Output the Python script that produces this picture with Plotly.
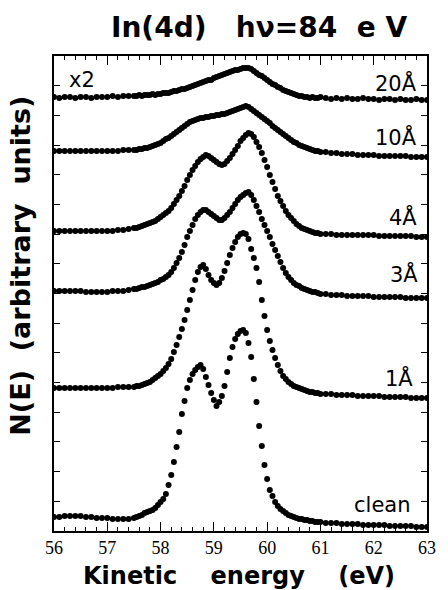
import plotly.graph_objects as go

# Kinetic energy grid (eV)
energy = [56.0, 56.1, 56.2, 56.3, 56.4, 56.5, 56.6, 56.7, 56.8, 56.9, 57.0, 57.1, 57.2, 57.3, 57.4,
          57.5, 57.55, 57.6, 57.65, 57.7, 57.75, 57.8, 57.85, 57.9, 57.95,
          58.0, 58.05, 58.1, 58.15, 58.2, 58.25, 58.3, 58.35, 58.4, 58.45,
          58.5, 58.55, 58.6, 58.65, 58.7, 58.75, 58.8, 58.85, 58.9, 58.95,
          59.0, 59.05, 59.1, 59.15, 59.2, 59.25, 59.3, 59.35, 59.4, 59.45,
          59.5, 59.55, 59.6, 59.65, 59.7, 59.75, 59.8, 59.85, 59.9, 59.95,
          60.0, 60.05, 60.1, 60.15, 60.2, 60.25, 60.3, 60.35, 60.4, 60.45,
          60.5, 60.55, 60.6, 60.65, 60.7, 60.75, 60.8, 60.85, 60.9, 60.95,
          61.0,
          61.1, 61.2, 61.3, 61.4, 61.5, 61.6, 61.7, 61.8, 61.9, 62.0,
          62.1, 62.2, 62.3, 62.4, 62.5, 62.6, 62.7, 62.8, 62.9, 63.0]

# N(E), arbitrary units (curves offset vertically as in the figure)
n_clean = [14, 14, 15, 15, 15, 15, 14, 14, 13, 13, 13, 12, 12, 12, 12,
           13, 14, 15, 16, 18, 19, 20, 21, 23, 26,
           29, 32, 37, 46, 56, 69, 84, 99, 117, 130,
           143, 151, 157, 161, 164, 166, 162, 154, 146, 138,
           131, 125, 129, 135, 145, 159, 173, 184, 192, 197,
           200, 201, 198, 188, 174, 152, 129, 105, 85, 66,
           52, 41, 35, 29, 25, 22, 20, 18, 16, 15,
           14, 13, 12, 12, 11, 11, 10, 10, 9, 9,
           9,
           8, 8, 8, 7, 7, 7, 7, 6, 6, 6, 6, 6, 5, 5, 5, 5, 5, 4, 4, 4]

n_1A = [143, 143, 143, 143, 143, 143, 143, 143, 143, 143, 143, 143, 144, 144, 144,
        144, 145, 145, 146, 147, 148, 149, 151, 153, 155,
        157, 160, 163, 167, 172, 179, 186, 194, 202, 211,
        221, 231, 241, 251, 259, 264, 266, 262, 256, 251,
        248, 246, 248, 253, 260, 268, 276, 283, 289, 294,
        297, 298, 297, 292, 282, 273, 263, 249, 231, 215,
        201, 190, 181, 173, 166, 160, 155, 152, 149, 147,
        145, 144, 143, 142, 141, 140, 139, 139, 138, 138,
        137,
        137, 137, 136, 136, 136, 136, 135, 135, 135, 135,
        135, 134, 134, 134, 134, 134, 133, 133, 133, 133]

n_3A = [240, 240, 240, 240, 240, 240, 239, 239, 239, 239, 239, 240, 240, 240, 241,
        242, 242, 243, 244, 244, 245, 246, 247, 248, 249,
        251, 252, 254, 256, 259, 263, 268, 273, 279, 286,
        294, 300, 306, 312, 316, 319, 321, 321, 319, 317,
        315, 313, 311, 311, 313, 316, 319, 323, 327, 331,
        334, 336, 338, 339, 336, 331, 325, 319, 312, 306,
        300, 294, 287, 281, 275, 269, 263, 258, 254, 251,
        248, 246, 245, 243, 242, 241, 240, 239, 239, 238,
        237,
        237, 236, 236, 236, 235, 235, 235, 235, 235, 234,
        234, 234, 234, 234, 234, 233, 233, 233, 233, 233]

n_4A = [300, 300, 300, 300, 300, 300, 300, 300, 300, 300, 300, 300, 301, 301, 302,
        303, 303, 304, 305, 306, 307, 308, 309, 310, 312,
        314, 316, 318, 320, 323, 327, 331, 335, 340, 345,
        351, 356, 361, 365, 369, 372, 374, 376, 375, 373,
        371, 369, 367, 366, 367, 370, 373, 377, 381, 385,
        390, 393, 396, 398, 397, 394, 389, 384, 378, 371,
        364, 356, 349, 342, 335, 330, 325, 320, 316, 313,
        310, 307, 305, 303, 302, 301, 300, 299, 298, 298,
        297,
        297, 297, 296, 296, 296, 296, 296, 296, 296, 296,
        295, 295, 295, 295, 295, 295, 295, 294, 294, 294]

n_10A = [380, 380, 380, 380, 380, 380, 380, 380, 380, 380, 380, 380, 380, 381, 381,
         381, 381, 382, 382, 383, 383, 384, 385, 386, 387,
         388, 390, 392, 393, 395, 397, 399, 401, 403, 405,
         407, 409, 410, 411, 412, 413, 413, 414, 414, 415,
         415, 416, 416, 417, 417, 418, 419, 420, 421, 422,
         423, 424, 425, 424, 422, 420, 418, 416, 414, 412,
         410, 408, 405, 403, 401, 399, 397, 395, 393, 391,
         389, 388, 386, 385, 384, 383, 382, 381, 380, 380,
         379,
         379, 378, 378, 377, 377, 377, 376, 376, 376, 376,
         375, 375, 375, 375, 375, 375, 374, 374, 374, 374]

n_20A = [434, 433, 434, 434, 433, 434, 434, 433, 434, 434, 434, 435, 434, 435, 435,
         435, 435, 436, 435, 436, 436, 436, 437, 436, 437,
         437, 438, 438, 438, 439, 440, 440, 441, 442, 442,
         443, 444, 445, 446, 447, 448, 449, 450, 451, 451,
         453, 454, 455, 456, 457, 458, 459, 460, 461, 461,
         462, 463, 463, 463, 462, 460, 458, 456, 455, 453,
         451, 449, 447, 446, 444, 443, 441, 440, 439, 438,
         437, 436, 435, 435, 434, 434, 433, 434, 433, 433,
         434,
         433, 432, 433, 432, 433, 432, 432, 433, 432, 432,
         431, 432, 432, 431, 432, 431, 431, 432, 431, 431]

series = [("clean", n_clean), ("1 Å", n_1A), ("3 Å", n_3A),
          ("4 Å", n_4A), ("10 Å", n_10A), ("20 Å", n_20A)]

# curve labels: (text, x, y)
labels = [("20Å", 62.85, 448), ("10Å", 62.85, 394), ("4Å", 62.85, 314),
          ("3Å", 62.87, 257), ("1Å", 62.78, 153), ("clean", 62.72, 26)]

fig = go.Figure()
for name, vals in series:
    fig.add_trace(go.Scatter(x=energy, y=vals, mode="markers", name=name,
                             marker=dict(size=6, color="black"),
                             showlegend=False))

lab_font = dict(family="DejaVu Sans", size=21, color="black")
for txt, xx, yy in labels:
    fig.add_annotation(x=xx, y=yy, xref="x", yref="y", text=txt, showarrow=False,
                       xanchor="right", yanchor="middle", font=lab_font)
fig.add_annotation(x=56.24, y=451, xref="x", yref="y", text="x2", showarrow=False,
                   xanchor="left", yanchor="middle", font=lab_font)

bold = dict(family="DejaVu Sans", color="black")
fig.add_annotation(x=0.55, y=1.061, xref="paper", yref="paper",
                   text="<b>In(4d)\u00a0\u00a0\u00a0hν=84\u00a0\u00a0e\u00a0V</b>",
                   showarrow=False, xanchor="center", yanchor="middle",
                   font=dict(size=28, **bold))
fig.add_annotation(x=0.496, y=-0.0947, xref="paper", yref="paper",
                   text="<b>Kinetic\u00a0\u00a0\u00a0\u00a0energy\u00a0\u00a0\u00a0\u00a0(eV)</b>",
                   showarrow=False, xanchor="center", yanchor="middle",
                   font=dict(size=24, **bold))
fig.add_annotation(x=-0.089, y=0.558, xref="paper", yref="paper", textangle=-90,
                   text="<b>N(E)\u00a0\u00a0(arbitrary\u00a0\u00a0units)</b>",
                   showarrow=False, xanchor="center", yanchor="middle",
                   font=dict(size=27, **bold))

fig.update_layout(
    width=448, height=590,
    margin=dict(l=54, r=13, t=56, b=59),
    paper_bgcolor="white", plot_bgcolor="white",
    showlegend=False,
    xaxis=dict(range=[56, 63], dtick=1, tick0=56, showgrid=False, zeroline=False,
               showline=True, linecolor="black", linewidth=1.5, mirror="ticks",
               ticks="inside", ticklen=9, tickwidth=1.2, tickcolor="black",
               tickfont=dict(family="Liberation Serif", size=18, color="black"),
               minor=dict(dtick=0.2, ticks="inside", ticklen=4, tickwidth=1,
                          tickcolor="black", showgrid=False)),
    yaxis=dict(range=[0, 475], dtick=29.6875, tick0=0, showgrid=False, zeroline=False,
               showline=True, linecolor="black", linewidth=1.5, mirror="ticks",
               ticks="inside", ticklen=6, tickwidth=1.2, tickcolor="black",
               showticklabels=False),
)

fig.write_html("out.html")
